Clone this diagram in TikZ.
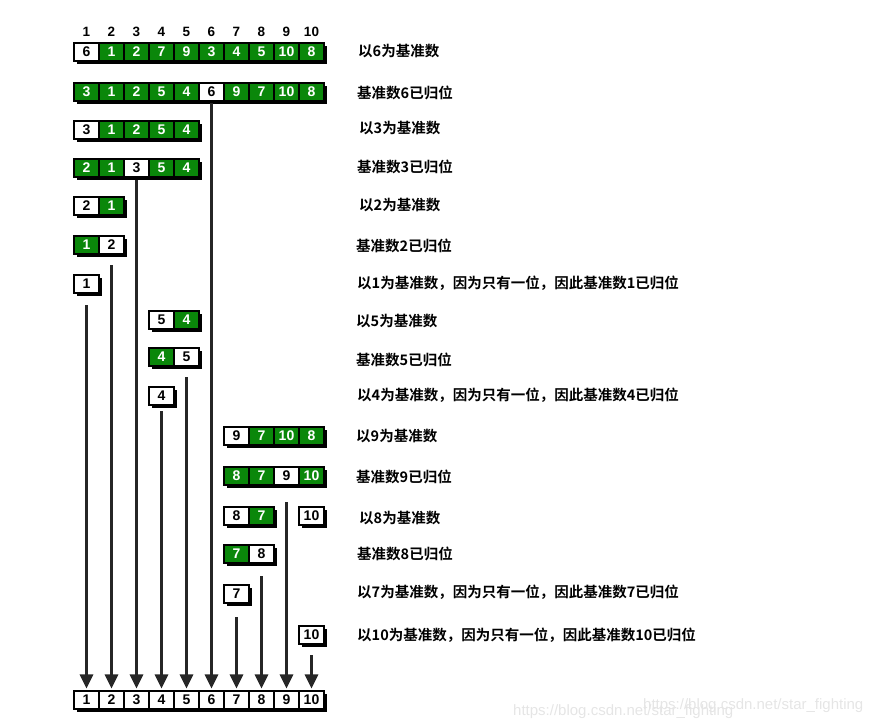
\documentclass[tikz,border=0pt]{standalone}
\usepackage{fontspec}
\setmainfont{Liberation Sans}
\newfontfamily\cjk{Noto Sans CJK SC}[BoldFont={Noto Sans CJK SC Bold}]
\usetikzlibrary{shadows,arrows.meta,calc}
\definecolor{cgreen}{RGB}{10,135,10}
\definecolor{lineblk}{RGB}{38,38,38}
\newcommand\cellrow[4]{%
  \foreach \v/\k [count=\j from 0] in {#4} {%
    \pgfmathtruncatemacro\cc{#3+\j}%
    \node[cell,\k] (r#1c\cc) at ({86.5+(\cc-1)*25},#2) {\v};
  }%
}
\begin{document}
\begin{tikzpicture}[x=1pt,y=-1pt,
  cell/.style={draw=black,line width=1.1pt,minimum width=25pt,minimum height=18pt,
    inner sep=0pt,font=\fontsize{14}{15}\selectfont\bfseries,
    drop shadow={shadow xshift=3pt,shadow yshift=-3pt,opacity=1,fill=black}},
  W/.style={fill=white,text=black},
  G/.style={fill=cgreen,text=white},
  hdr/.style={font=\fontsize{13.5}{14}\selectfont\bfseries,inner sep=0pt},
  lbl/.style={anchor=west,inner sep=0pt,font=\cjk\fontsize{14.5}{16}\selectfont\bfseries},
  arr/.style={line width=2.8pt,draw=lineblk,-{Triangle[width=13pt,length=14pt]},shorten >=2pt},
  wm/.style={anchor=base west,inner sep=0pt,text=black!10,font=\fontsize{15}{16}\selectfont}
]
\useasboundingbox (0,0) rectangle (884,724);

% header
\foreach \i in {1,...,10} { \node[hdr] (h\i) at ({86.5+(\i-1)*25},32) {\i}; }

% rows
\cellrow{1}{52}{1}{6/W,1/G,2/G,7/G,9/G,3/G,4/G,5/G,10/G,8/G}
\cellrow{2}{92}{1}{3/G,1/G,2/G,5/G,4/G,6/W,9/G,7/G,10/G,8/G}
\cellrow{3}{130}{1}{3/W,1/G,2/G,5/G,4/G}
\cellrow{4}{168}{1}{2/G,1/G,3/W,5/G,4/G}
\cellrow{5}{206}{1}{2/W,1/G}
\cellrow{6}{245}{1}{1/G,2/W}
\cellrow{7}{284}{1}{1/W}
\cellrow{8}{320}{4}{5/W,4/G}
\cellrow{9}{357}{4}{4/G,5/W}
\cellrow{10}{396}{4}{4/W}
\cellrow{11}{436}{7}{9/W,7/G,10/G,8/G}
\cellrow{12}{476}{7}{8/G,7/G,9/W,10/G}
\cellrow{13}{516}{7}{8/W,7/G}
\cellrow{13}{516}{10}{10/W}
\cellrow{14}{554}{7}{7/G,8/W}
\cellrow{15}{594}{7}{7/W}
\cellrow{16}{635}{10}{10/W}
% bottom row
\foreach \i in {1,...,10} { \node[cell,W] (b\i) at ({86.5+(\i-1)*25},700) {\i}; }

% labels
\node[lbl] (t1) at (358,51) {以6为基准数};
\node[lbl] (t2) at (357,93) {基准数6已归位};
\node[lbl] (t3) at (359,128) {以3为基准数};
\node[lbl] (t4) at (357,167) {基准数3已归位};
\node[lbl] (t5) at (359,205) {以2为基准数};
\node[lbl] (t6) at (356,246) {基准数2已归位};
\node[lbl] (t7) at (357,283) {以1为基准数，因为只有一位，因此基准数1已归位};
\node[lbl] (t8) at (356,321) {以5为基准数};
\node[lbl] (t9) at (356,360) {基准数5已归位};
\node[lbl] (t10) at (357,395) {以4为基准数，因为只有一位，因此基准数4已归位};
\node[lbl] (t11) at (356,436) {以9为基准数};
\node[lbl] (t12) at (356,477) {基准数9已归位};
\node[lbl] (t13) at (359,518) {以8为基准数};
\node[lbl] (t14) at (357,554) {基准数8已归位};
\node[lbl] (t15) at (357,592) {以7为基准数，因为只有一位，因此基准数7已归位};
\node[lbl] (t16) at (357,635) {以10为基准数，因为只有一位，因此基准数10已归位};

% connectors
\coordinate (s6) at (211.5,103);
\coordinate (s3) at (136.5,180);
\coordinate (s2) at (111.5,265);
\coordinate (s1) at (86.5,305);
\coordinate (s5) at (186.5,377);
\coordinate (s4) at (161.5,411);
\coordinate (s9) at (286.5,502);
\coordinate (s8) at (261.5,576);
\coordinate (s7) at (236.5,617);
\coordinate (s10) at (311.5,655);
\foreach \i in {1,...,10} { \draw[arr] (s\i) -- (b\i.north); }

% watermark
\node[wm] (w1) at (513,715) {https://blog.csdn.net/star\_fighting};
\node[wm] (w2) at (643,709) {https://blog.csdn.net/star\_fighting};
\end{tikzpicture}
\end{document}
